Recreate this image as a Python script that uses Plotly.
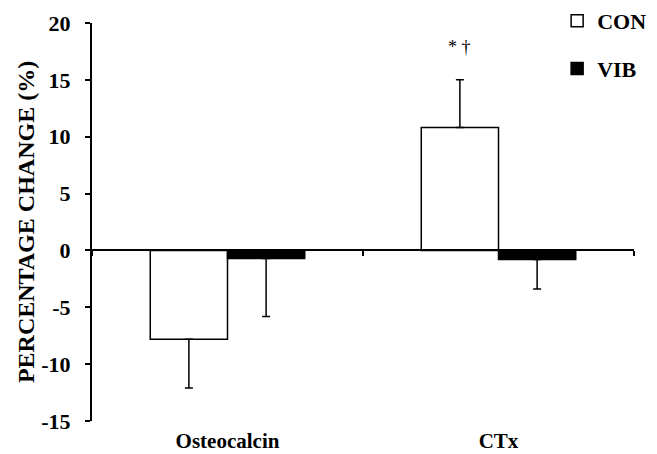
import plotly.graph_objects as go

categories = ["Osteocalcin", "CTx"]
con_values = [-7.8, 10.8]
con_err = [4.3, 4.2]
vib_values = [-0.7, -0.8]
vib_err = [5.1, 2.6]
y_ticks = [-15, -10, -5, 0, 5, 10, 15, 20]
y_tick_labels = ["-15", "-10", "-5", "0", "5", "10", "15", "20"]
sig_label = "* †"
sig_y = 17.9

FONT = "Liberation Serif"


def err_up(vals, errs):
    return [e if v >= 0 else 0 for v, e in zip(vals, errs)]


def err_down(vals, errs):
    return [e if v < 0 else 0 for v, e in zip(vals, errs)]


fig = go.Figure()
fig.add_trace(go.Bar(
    name="CON", x=categories, y=con_values, legendgroup="a",
    marker=dict(color="white", line=dict(color="black", width=1.5)),
    error_y=dict(type="data", symmetric=False, array=err_up(con_values, con_err),
                 arrayminus=err_down(con_values, con_err),
                 color="black", thickness=1.5, width=4),
))
fig.add_trace(go.Bar(
    name="VIB", x=categories, y=vib_values, legendgroup="b",
    marker=dict(color="black", line=dict(color="black", width=1.5)),
    error_y=dict(type="data", symmetric=False, array=err_up(vib_values, vib_err),
                 arrayminus=err_down(vib_values, vib_err),
                 color="black", thickness=1.5, width=4),
))
# helper trace for the zero-level category axis
fig.add_trace(go.Scatter(x=categories, y=[None, None], xaxis="x2", showlegend=False,
                         hoverinfo="skip", mode="markers"))

fig.add_annotation(x="CTx", y=sig_y, text=sig_label, showarrow=False, xshift=-39,
                   font=dict(family=FONT, size=18, color="black"))

fig.update_layout(
    width=657, height=454,
    margin=dict(l=92, r=23, t=23, b=33, autoexpand=False),
    paper_bgcolor="white", plot_bgcolor="white",
    barmode="group", bargap=0.43, bargroupgap=0,
    font=dict(family=FONT, color="black", size=21),
    showlegend=True,
    legend=dict(xref="container", yref="container", x=0.848, y=1.012,
                xanchor="left", yanchor="top",
                traceorder="grouped", tracegroupgap=16,
                font=dict(family=FONT, size=22, color="black", weight="bold"),
                bgcolor="rgba(0,0,0,0)"),
    xaxis=dict(type="category", range=[-0.5, 1.5], showline=False, ticks="",
               showgrid=False, zeroline=False, ticklabelstandoff=5, automargin=False,
               tickfont=dict(family=FONT, size=21, color="black", weight="bold")),
    xaxis2=dict(type="category", overlaying="x", anchor="free", position=15 / 35,
                range=[-0.5, 1.5], showline=True, linecolor="black", linewidth=2,
                ticks="outside", tickson="boundaries", ticklen=5, tickwidth=2,
                tickcolor="black", showticklabels=False, showgrid=False, zeroline=False,
                automargin=False),
    yaxis=dict(range=[-15, 20], tickvals=y_ticks, ticktext=y_tick_labels,
               showline=True, linecolor="black", automargin=False,
               linewidth=2, ticks="outside", ticklen=5, tickwidth=2, tickcolor="black",
               showgrid=False, zeroline=False, ticklabelstandoff=10,
               tickfont=dict(family=FONT, size=22, color="black", weight="bold"),
               title=dict(text="PERCENTAGE CHANGE (%)", standoff=0,
                          font=dict(family=FONT, size=24, color="black", weight="bold"))),
)

fig.write_html("out.html", config={"displayModeBar": False},
               post_script="document.body.style.margin='0';document.body.style.padding='0';")
